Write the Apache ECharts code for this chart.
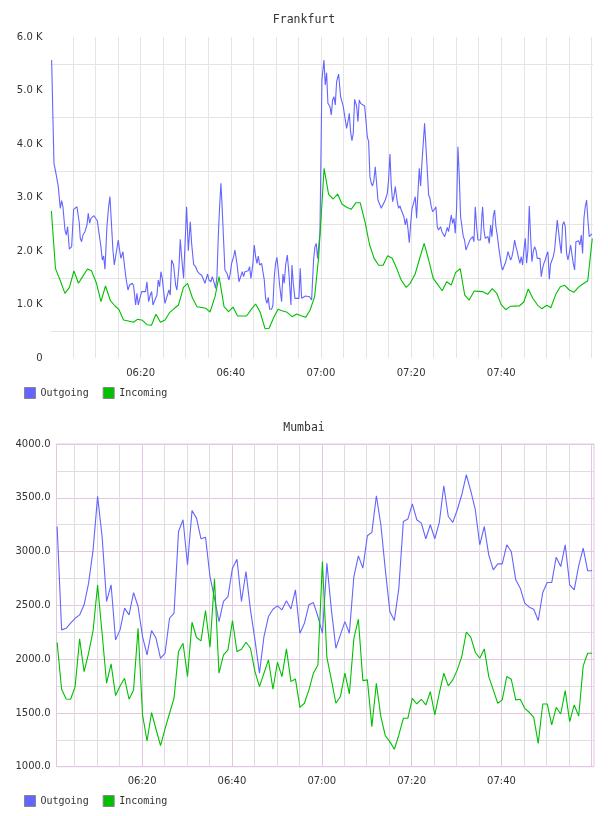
<!DOCTYPE html>
<html>
<head>
<meta charset="utf-8">
<script src="https://cdn.jsdelivr.net/npm/echarts@6/dist/echarts.min.js"></script>
<style>
html,body{margin:0;padding:0;background:#fff;}
#chart{width:608px;height:816px;}
</style>
</head>
<body>
<div id="chart"></div>
<script>
// ---- Data (time = minutes after 06:00) ----
const seriesNames = ['Outgoing', 'Incoming'];
const timeLabels = ['06:20', '06:40', '07:00', '07:20', '07:40'];

// Frankfurt Outgoing (irregular sampling)
const fraOutTimes = [
0.25,0.77,1.21,1.73,2.17,2.47,2.76,3.21,3.50,3.80,
4.17,4.69,5.13,5.87,6.39,6.61,6.90,7.20,7.64,8.09,
8.38,8.68,8.97,9.34,9.64,10.01,10.38,10.82,11.19,11.49,
11.78,12.08,12.52,12.89,13.19,13.56,13.85,14.15,14.59,15.04,
15.33,15.63,16.07,16.44,16.81,17.18,17.55,18.14,18.44,18.88,
19.18,19.48,19.92,20.22,20.66,21.10,21.40,21.77,22.14,22.43,
22.73,23.17,23.62,23.91,24.21,24.50,24.80,25.10,25.39,25.83,
26.28,26.57,26.87,27.31,27.76,28.05,28.50,28.79,29.09,29.53,
29.83,30.20,30.57,31.01,31.31,31.75,32.19,32.64,33.08,33.53,
33.97,34.27,34.56,34.86,35.15,35.60,35.89,36.34,36.63,36.93,
37.22,37.52,37.81,38.11,38.40,38.70,39.15,39.59,39.88,40.18,
40.63,40.92,41.36,41.81,42.25,42.55,42.84,43.14,43.58,43.88,
44.17,44.47,44.91,45.21,45.51,45.80,46.10,46.39,46.84,47.13,
47.43,47.72,48.02,48.32,48.61,49.06,49.35,49.65,49.94,50.24,
50.53,50.83,51.27,51.57,51.87,52.16,52.53,52.90,53.34,53.57,
53.86,54.23,54.60,55.12,55.41,55.71,56.15,56.60,57.04,57.48,
57.93,58.37,58.67,58.96,59.26,
59.78,60.22,60.67,60.96,61.26,61.55,62.00,62.29,62.59,62.88,
63.18,63.48,63.92,64.36,64.66,64.96,65.40,65.69,65.99,66.29,
66.58,66.88,67.17,67.47,67.91,68.21,68.50,68.80,69.24,69.69,
69.98,70.28,70.58,70.87,71.17,71.46,71.76,72.05,72.35,72.65,
72.94,73.39,73.83,74.27,74.72,75.01,75.31,75.60,75.90,76.20,
76.49,76.93,77.23,77.53,77.82,78.12,78.41,78.71,79.01,79.30,
79.60,79.89,80.19,80.63,80.93,81.22,81.52,81.82,82.11,82.41,
82.70,83.00,83.30,83.59,83.89,84.18,84.48,84.77,85.22,85.51,
85.81,86.10,86.55,86.84,87.14,87.44,87.73,88.03,88.32,88.62,
88.92,89.21,89.51,89.80,90.10,90.39,90.69,90.99,91.28,91.58,
91.87,92.17,92.46,92.76,93.06,93.35,93.65,93.94,94.24,94.54,
94.83,95.13,95.42,95.72,95.87,96.16,96.46,96.75,97.05,97.35,
97.64,97.94,98.23,98.53,98.82,99.12,99.42,99.71,100.01,100.30,
100.60,100.89,101.19,101.49,101.78,102.08,102.37,102.67,102.97,103.26,
103.56,103.85,104.15,104.44,104.74,105.04,105.33,105.63,105.92,106.22,
106.52,106.81,107.11,107.40,107.70,107.99,108.29,108.59,108.88,109.18,
109.47,109.77,110.06,110.36,110.66,110.95,111.25,111.54,111.84,112.14,
112.43,112.73,113.02,113.32,113.61,113.91,114.21,114.50,114.80,115.09,
115.39,115.68,115.98,116.28,116.57,116.87,117.16,117.46,117.76,118.05,
118.35,118.64,118.94,119.23,119.53,119.83,120.12
];
const fraOutgoing = [
5570,3639,3452,3202,2798,2940,2828,2392,2299,2454,
2037,2081,2779,2828,2518,2237,2174,2299,2361,2486,
2704,2518,2611,2579,2660,2641,2566,2536,2081,1832,
1906,1658,2454,2828,3015,2454,2019,1738,1707,2205,
2019,1863,1987,1707,1458,1271,1364,1396,1346,991,
1209,991,1146,1240,1221,1240,1426,1052,1177,1240,
991,1084,1177,1458,1333,1613,1489,1520,1022,1022,
1271,1177,1832,1738,1364,1271,1707,2218,1893,1489,
1520,2828,2006,2548,2143,1751,1707,1613,1570,1551,
1458,1396,1364,1570,1458,1426,1520,1396,1302,1520,
2268,2828,3265,2766,2205,1645,1583,1458,1583,1770,
1893,2019,1770,1426,1396,1613,1520,1613,1595,1632,
1707,1489,1770,2112,1893,1770,1906,1738,1770,1613,
1458,1115,1022,1134,910,910,991,1520,1770,1882,
1645,1364,1052,1570,1396,1738,1925,1583,991,1738,
1396,1115,1146,1115,1676,1115,1115,1159,1177,1146,
1084,1832,2081,2143,1863,
2330,5196,5570,5103,5333,4760,4697,4542,4822,4884,
4729,5164,5308,4884,4884,4697,4667,4293,4417,4573,
4230,4062,4199,4835,4710,4417,4822,4760,4760,4710,
4448,4137,4044,3390,3265,3215,3327,3576,3265,2953,
2921,2798,2779,2953,3078,3327,3813,3234,2921,3028,
3202,2921,2798,2841,2766,2779,2641,2486,2611,2424,
2155,2486,2779,2779,3015,2611,3078,3545,3215,3650,
4013,4387,3950,3514,3047,2985,2828,2735,2779,2828,
2454,2392,2454,2361,2392,2268,2342,2442,2361,2517,
2673,2517,2611,2330,2798,3950,3390,2641,2622,2268,
2205,2019,2081,2143,2205,2174,2268,2174,2828,2454,
2205,2218,2205,2673,2828,2392,2237,2218,2268,2143,
2486,2268,2641,2766,2454,2299,2081,2050,1738,1645,
1676,1770,1863,1987,1987,1832,1893,2019,2205,2081,
1987,1863,1770,1893,1738,2019,2237,1770,2019,2841,
2268,1800,1987,2081,2019,1863,1845,1863,1520,1676,
1770,1832,1925,1987,1471,1757,1738,1893,2019,2019,
2579,2579,2143,1956,2486,2548,2454,1956,1832,1956,
2112,2143,1770,1645,2174,2143,2193,2112,2299,1956,
2611,2828,2953,2579,2268,2299,2318
];

// Frankfurt Incoming (about one sample per minute)
const fraInTimes = [
0.2,1.1,2.2,3.2,4.2,5.2,6.2,7.2,8.2,9.1,
10.2,11.2,12.2,13.3,14.3,15.2,16.2,17.3,18.4,19.3,
20.4,21.4,22.4,23.4,24.4,25.4,26.4,27.5,28.4,29.5,
30.4,31.5,32.5,33.5,34.5,35.4,36.5,37.4,38.5,39.5,
40.5,41.5,42.5,43.5,44.5,45.5,46.5,47.6,48.5,49.6,
50.5,51.5,52.5,53.6,54.6,55.6,56.6,57.6,58.6,59.5,
60.7,61.7,62.7,63.7,64.7,65.7,66.7,67.8,68.7,69.8,
70.8,71.8,72.8,73.8,74.8,75.8,76.8,77.8,78.9,79.8,
80.9,81.9,82.9,83.9,84.9,85.9,86.9,87.9,88.9,89.9,
90.9,91.9,92.9,94.0,95.0,95.9,97.0,98.0,99.0,100.0,
101.0,102.0,103.0,104.0,105.0,106.0,107.0,108.1,109.0,110.1,
111.0,112.1,113.1,114.1,115.1,116.1,117.1,118.1,119.2,120.2
];
const fraIncoming = [
2747,1676,1440,1209,1321,1626,1396,1530,1663,1632,
1396,1052,1346,1071,972,903,710,690,667,723,
705,622,611,817,667,710,847,929,991,1321,
1396,1121,959,945,929,860,1146,1520,959,866,
953,785,785,785,903,1009,860,548,555,772,
910,880,854,772,822,790,760,897,1146,1893,
3545,3060,2972,3065,2873,2817,2779,2903,2903,2536,
2112,1863,1733,1733,1912,1863,1676,1458,1321,1396,
1570,1860,2143,1832,1489,1377,1258,1426,1364,1601,
1669,1177,1084,1252,1246,1240,1190,1296,1209,997,
903,966,969,972,1047,1290,1116,985,922,985,
940,1190,1333,1358,1271,1228,1321,1383,1445,2237
];

// Mumbai: one sample per minute starting ~06:01
const mumStart = 1.09, mumStep = 1.0008;
const mumOutgoing = [
3233,2272,2287,2334,2380,2411,2505,2706,3016,3513,
3140,2536,2691,2179,2272,2474,2411,2619,2489,2210,
2039,2266,2194,2008,2055,2380,2427,3187,3296,2877,
3382,3311,3119,3134,2768,2567,2349,2536,2582,2846,
2929,2536,2815,2458,2179,1869,2210,2396,2464,2495,
2458,2542,2467,2644,2241,2334,2505,2526,2396,2241,
2892,2458,2101,2225,2349,2241,2768,2960,2846,3147,
3178,3519,3249,2830,2443,2359,2660,3280,3302,3444,
3296,3264,3119,3249,3119,3271,3612,3326,3271,3389,
3528,3714,3565,3389,3063,3233,2970,2830,2886,2886,
3063,3001,2737,2660,2520,2483,2464,2359,2619,2712,
2712,2948,2861,3063,2691,2644,2867,3032,2821,2821
];
const mumIncoming = [
2154,1720,1630,1627,1745,2188,1884,2055,2266,2688,
2241,1776,1956,1661,1751,1822,1627,1714,2287,1481,
1239,1503,1348,1196,1351,1497,1636,2070,2148,1838,
2343,2201,2170,2452,2111,2746,1869,2039,2086,2359,
2070,2092,2157,2101,1884,1745,1869,1993,1720,1971,
1838,2095,1791,1816,1552,1590,1714,1869,1946,2908,
2016,1807,1590,1652,1869,1676,2194,2371,1800,1807,
1373,1776,1466,1286,1233,1162,1295,1450,1450,1636,
1583,1627,1574,1698,1481,1683,1869,1751,1807,1900,
2024,2250,2204,2064,2008,2095,1838,1714,1590,1621,
1838,1813,1621,1627,1543,1506,1459,1217,1583,1583,
1388,1552,1490,1707,1419,1574,1472,1937,2055,2055
];

// ---- Build ----
const BLUE = '#6464ff', GREEN = '#00c000';
const MONO = 'DejaVu Sans Mono', SANS = 'DejaVu Sans';
const TXT = '#333';

function zipPairs(t, v) { const n = Math.min(t.length, v.length); const out = []; for (let i = 0; i < n; i++) out.push([t[i], v[i]]); return out; }
function regular(start, step, v) { return v.map((y, i) => [start + i * step, y]); }

function timeFmt(v) {
  const r = Math.round(v);
  if (Math.abs(v - r) > 1e-6 || r % 20 !== 0 || r <= 0 || r >= 120) return '';
  const idx = r / 20 - 1;
  return timeLabels[idx] || '';
}

const axisLabelBase = { fontFamily: SANS, fontSize: 10, color: TXT };

const option = {
  animation: false,
  backgroundColor: '#ffffff',
  title: [
    { text: 'Frankfurt', left: 'center', top: 14, padding: 0, textStyle: { fontFamily: MONO, fontSize: 11.5, fontWeight: 'normal', color: TXT } },
    { text: 'Mumbai', left: 'center', top: 422, padding: 0, textStyle: { fontFamily: MONO, fontSize: 11.5, fontWeight: 'normal', color: TXT } }
  ],
  legend: [0, 1].map(k => ({
    data: seriesNames, left: 24, top: k === 0 ? 387 : 795, padding: 0, orient: 'horizontal',
    itemWidth: 11, itemHeight: 11, itemGap: 14, icon: 'rect', selectedMode: false,
    itemStyle: { borderColor: '#888', borderWidth: 1 },
    textStyle: { fontFamily: MONO, fontSize: 10, color: TXT }
  })),
  grid: [
    { left: 50.5, top: 37, width: 542.5, height: 321, containLabel: false, outerBoundsMode: 'none' },
    { left: 56.5, top: 444, width: 537.5, height: 322.7, containLabel: false, outerBoundsMode: 'none',
      show: true, borderColor: '#e2c6e2', borderWidth: 1, backgroundColor: 'rgba(0,0,0,0)' }
  ],
  xAxis: [
    { gridIndex: 0, type: 'value', min: 0, max: 120.36, interval: 5,
      axisLine: { show: false }, axisTick: { show: false },
      axisLabel: Object.assign({ formatter: timeFmt, margin: 10, showMinLabel: false, showMaxLabel: false }, axisLabelBase),
      splitLine: { show: true, showMinLine: false, showMaxLine: false, lineStyle: { color: '#e4e4e4', width: 1 } } },
    { gridIndex: 1, type: 'value', min: 0.95, max: 120.59, minInterval: 5, maxInterval: 5, splitNumber: 24,
      axisLine: { show: false }, axisTick: { show: false },
      axisLabel: Object.assign({ formatter: timeFmt, margin: 10, showMinLabel: false, showMaxLabel: false }, axisLabelBase),
      splitLine: { show: true, showMinLine: false, showMaxLine: false,
        lineStyle: { color: ['#dedede', '#dedede', '#dedede', '#e2c6e2'], width: 1 } } }
  ],
  yAxis: [
    { gridIndex: 0, type: 'value', min: 0, max: 6000, interval: 500,
      axisLine: { show: false }, axisTick: { show: false },
      axisLabel: Object.assign({ margin: 8, formatter: v => v === 0 ? '0' : (v % 1000 === 0 ? (v / 1000).toFixed(1) + ' K' : '') }, axisLabelBase),
      splitLine: { show: true, lineStyle: { color: ['rgba(0,0,0,0)', '#e4e4e4'], width: 1 } } },
    { gridIndex: 1, type: 'value', min: 1000, max: 4000, interval: 250,
      axisLine: { show: false }, axisTick: { show: false },
      axisLabel: Object.assign({ margin: 6, formatter: v => v % 500 === 0 ? v.toFixed(1) : '' }, axisLabelBase),
      splitLine: { show: true, lineStyle: { color: ['#e2c6e2', '#dedede'], width: 1 } } }
  ],
  series: [
    { name: 'Outgoing', type: 'line', xAxisIndex: 0, yAxisIndex: 0, data: zipPairs(fraOutTimes, fraOutgoing) },
    { name: 'Incoming', type: 'line', xAxisIndex: 0, yAxisIndex: 0, data: zipPairs(fraInTimes, fraIncoming) },
    { name: 'Outgoing', type: 'line', xAxisIndex: 1, yAxisIndex: 1, data: regular(mumStart, mumStep, mumOutgoing) },
    { name: 'Incoming', type: 'line', xAxisIndex: 1, yAxisIndex: 1, data: regular(mumStart, mumStep, mumIncoming) }
  ].map(s => Object.assign(s, {
    showSymbol: false, symbol: 'none', emphasis: { disabled: true },
    color: s.name === 'Outgoing' ? BLUE : GREEN,
    itemStyle: { color: s.name === 'Outgoing' ? BLUE : GREEN, borderColor: '#888', borderWidth: 1 },
    lineStyle: { color: s.name === 'Outgoing' ? BLUE : GREEN, width: 1.1 }
  }))
};

const chart = echarts.init(document.getElementById('chart'), null, { renderer: 'canvas' });
chart.setOption(option);
</script>
</body>
</html>
